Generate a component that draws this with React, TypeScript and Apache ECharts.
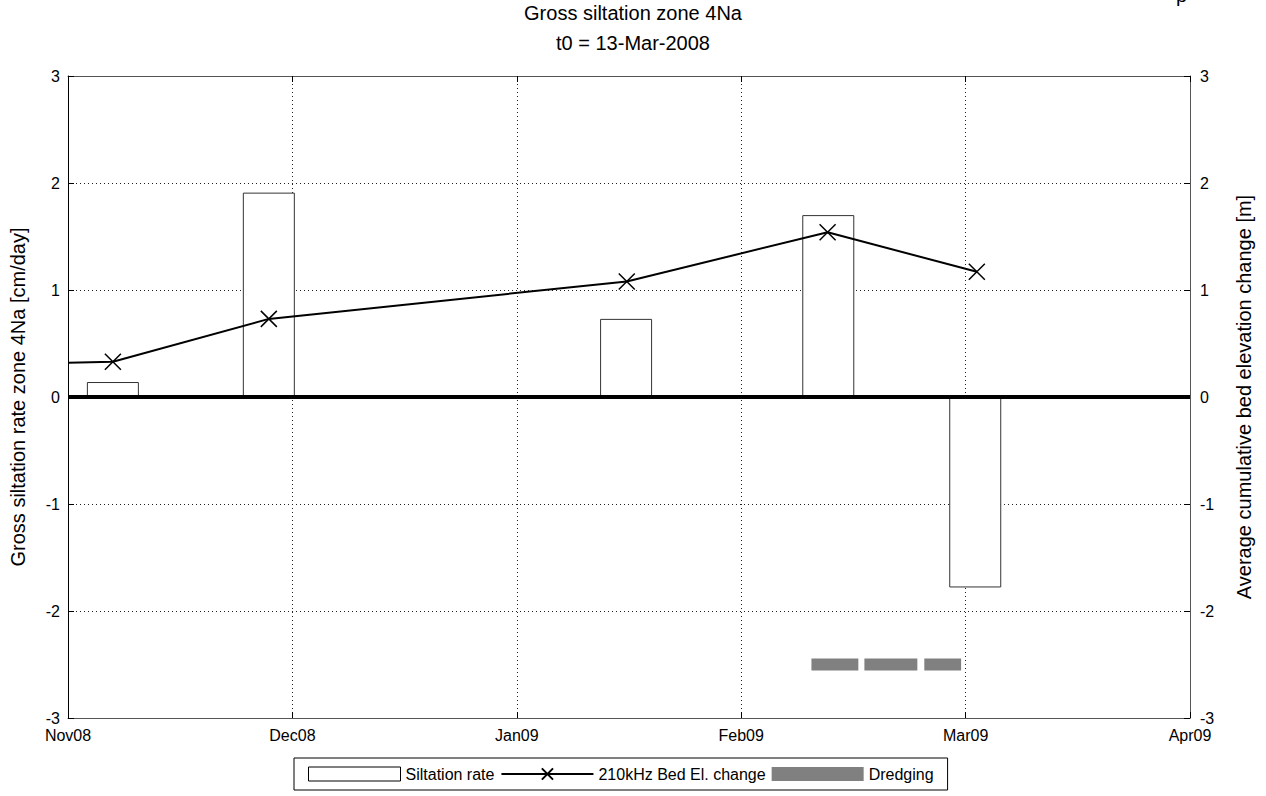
import React, { useEffect, useRef } from "react";
import * as echarts from "echarts";

const monthLabels = ["Nov08", "Dec08", "Jan09", "Feb09", "Mar09", "Apr09"];
// x positions are in months since 1-Nov-2008
const siltationRate: [number, number][] = [
  [0.2, 0.14],
  [0.895, 1.91],
  [2.487, 0.73],
  [3.388, 1.7],
  [4.043, -1.78],
];
const bedElevationChange: [number, number][] = [
  [0.0, 0.32],
  [0.2, 0.33],
  [0.895, 0.73],
  [2.49, 1.08],
  [3.385, 1.54],
  [4.05, 1.17],
];
const dredgingPeriods: [number, number, number][] = [
  [3.313, 3.522, -2.5],
  [3.549, 3.785, -2.5],
  [3.816, 3.98, -2.5],
];

const FONT = "Liberation Sans, Arial, sans-serif";

export default function App() {
  const ref = useRef<HTMLDivElement>(null);
  useEffect(() => {
    document.body.style.margin = "0";
    const chart = echarts.init(ref.current!, null, { renderer: "svg" });
    const axisLineStyle = { color: "#555", width: 1 };
    const split = { show: true, lineStyle: { color: "#222", type: [1, 3] as any, width: 1 } };
    const tickLabel = { fontFamily: FONT, fontSize: 16, color: "#000" };
    chart.setOption({
      animation: false,
      backgroundColor: "#fff",
      textStyle: { fontFamily: FONT, color: "#000" },
      title: {
        text: "Gross siltation zone 4Na\nt0 = 13-Mar-2008",
        left: 628,
        textAlign: "center",
        top: -7,
        textStyle: { fontFamily: FONT, fontSize: 20, fontWeight: "normal", lineHeight: 30, color: "#000" },
      },
      graphic: [
        { type: "text", x: 1176, y: -15, style: { text: "p", fontFamily: FONT, fontSize: 20, fill: "#000" } },
      ],
      grid: { left: 67, right: 76, top: 76, bottom: 78 },
      xAxis: [
        {
          type: "value",
          min: 0,
          max: 5,
          interval: 1,
          position: "bottom",
          axisLine: { show: true, onZero: false, lineStyle: axisLineStyle },
          axisTick: { show: true, inside: true, length: 6, lineStyle: { color: "#000" } },
          axisLabel: {
            formatter: (v: number) => monthLabels[Math.round(v)] ?? "",
            ...tickLabel,
            margin: 9,
          },
          splitLine: split,
        },
        {
          type: "value",
          min: 0,
          max: 5,
          interval: 1,
          position: "top",
          axisLine: { show: true, onZero: false, lineStyle: axisLineStyle },
          axisTick: { show: true, inside: true, length: 6, lineStyle: { color: "#000" } },
          axisLabel: { show: false },
          splitLine: { show: false },
        },
      ],
      yAxis: [
        {
          type: "value",
          min: -3,
          max: 3,
          interval: 1,
          position: "left",
          name: "Gross siltation rate zone 4Na [cm/day]",
          nameLocation: "middle",
          nameGap: 40,
          nameTextStyle: { fontFamily: FONT, fontSize: 20, color: "#000" },
          axisLine: { show: true, onZero: false, lineStyle: { color: "#000", width: 1 } },
          axisTick: { show: true, inside: true, length: 6, lineStyle: { color: "#000" } },
          axisLabel: { ...tickLabel, margin: 8 },
          splitLine: split,
        },
        {
          type: "value",
          min: -3,
          max: 3,
          interval: 1,
          position: "right",
          name: "Average cumulative bed elevation change [m]",
          nameLocation: "middle",
          nameGap: 44,
          nameRotate: 90,
          nameTextStyle: { fontFamily: FONT, fontSize: 20, color: "#000" },
          axisLine: { show: true, onZero: false, lineStyle: axisLineStyle },
          axisTick: { show: true, inside: true, length: 6, lineStyle: { color: "#000" } },
          axisLabel: { ...tickLabel, margin: 10 },
          splitLine: { show: false },
        },
      ],
      legend: {
        left: 294,
        bottom: 6,
        orient: "horizontal",
        itemWidth: 92,
        itemHeight: 14,
        itemGap: 6,
        padding: [8, 14, 8, 14],
        borderColor: "#000",
        borderWidth: 1,
        textStyle: { fontFamily: FONT, fontSize: 16, color: "#000" },
        data: [
          { name: "Siltation rate", icon: "rect", itemStyle: { color: "#fff", borderColor: "#000", borderWidth: 1 } },
          { name: "210kHz Bed El. change" },
          { name: "Dredging", icon: "rect", itemStyle: { color: "#808080" } },
        ],
      },
      series: [
        {
          name: "Siltation rate",
          type: "bar",
          xAxisIndex: 0,
          yAxisIndex: 0,
          barWidth: 52,
          data: siltationRate,
          itemStyle: { color: "#fff", borderColor: "#333", borderWidth: 1 },
          markLine: {
            silent: true,
            symbol: "none",
            label: { show: false },
            lineStyle: { color: "#000", width: 4, type: "solid" },
            data: [{ yAxis: 0 }],
          },
          z: 2,
        },
        {
          name: "210kHz Bed El. change",
          type: "line",
          xAxisIndex: 0,
          yAxisIndex: 1,
          data: bedElevationChange.map((d, i) =>
            i === 0 ? { value: d, symbol: "none" } : { value: d }
          ),
          symbol: "path://M0,0L10,10M10,0L0,10",
          symbolSize: 16,
          showAllSymbol: true,
          lineStyle: { color: "#000", width: 2 },
          itemStyle: { color: "#000", borderColor: "#000", borderWidth: 1.5 },
          z: 4,
        },
        {
          name: "Dredging",
          type: "custom",
          xAxisIndex: 0,
          yAxisIndex: 0,
          data: dredgingPeriods,
          itemStyle: { color: "#808080" },
          renderItem: (params: any, api: any) => {
            const a = api.coord([api.value(0), api.value(2)]);
            const b = api.coord([api.value(1), api.value(2)]);
            return {
              type: "rect",
              shape: { x: a[0], y: a[1] - 6, width: b[0] - a[0], height: 12 },
              style: { fill: "#808080" },
            };
          },
          z: 3,
        },
      ],
    });
    return () => chart.dispose();
  }, []);
  return <div ref={ref} style={{ position: "fixed", left: 0, top: 0, width: 1266, height: 796 }} />;
}
